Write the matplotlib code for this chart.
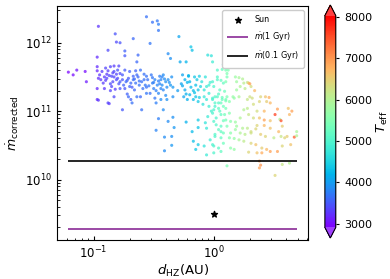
import numpy as np
import matplotlib
matplotlib.use("Agg")
import matplotlib.pyplot as plt

# each star: (log10 d_HZ [AU], log10 corrected mass loss, Teff [K]), grouped by d_HZ band
band_1 = [
    (-1.21, 11.57, 2950), (-1.17, 11.53, 3000), (-1.14, 11.60, 3050), (-1.07, 11.58, 3000),
    (-1.06, 11.43, 3100),
]
band_2 = [
    (-0.96, 12.24, 3250), (-0.97, 11.79, 3200), (-0.97, 11.65, 3200), (-0.97, 11.59, 3150),
    (-0.95, 11.53, 3250), (-0.96, 11.48, 3200), (-0.94, 11.46, 3300), (-0.97, 11.33, 3150),
    (-0.97, 11.17, 3200), (-0.96, 11.16, 3250), (-0.92, 11.41, 3300), (-0.91, 11.33, 3250),
    (-0.93, 11.58, 3300), (-0.90, 11.63, 3350), (-0.89, 11.54, 3300), (-0.89, 11.48, 3350),
    (-0.88, 11.59, 3300), (-0.88, 11.89, 3400), (-0.88, 11.12, 3350), (-0.87, 11.11, 3300),
    (-0.86, 11.65, 3350), (-0.85, 11.51, 3400), (-0.85, 11.36, 3350), (-0.84, 11.43, 3400),
    (-0.83, 11.50, 3350), (-0.83, 11.66, 3300), (-0.83, 11.58, 3400), (-0.82, 12.13, 3450),
    (-0.82, 11.32, 3300), (-0.81, 11.46, 3400), (-0.81, 11.54, 3350), (-0.81, 12.01, 3400),
    (-0.80, 11.60, 3450), (-0.80, 11.48, 3400), (-0.79, 11.66, 3350), (-0.79, 11.40, 3450),
    (-0.78, 12.00, 3450), (-0.78, 11.55, 3400), (-0.78, 11.43, 3500), (-0.78, 11.33, 3450),
    (-0.86, 11.30, 3350), (-0.83, 11.21, 3400), (-0.90, 11.45, 3300), (-0.87, 11.52, 3350),
    (-0.86, 11.40, 3400), (-0.84, 11.56, 3350), (-0.91, 11.50, 3300),
]
band_3 = [
    (-0.74, 11.88, 3550), (-0.74, 11.81, 3500), (-0.76, 11.46, 3450), (-0.76, 11.53, 3500),
    (-0.75, 11.38, 3550), (-0.74, 11.60, 3500), (-0.74, 11.33, 3450), (-0.73, 11.43, 3600),
    (-0.72, 11.25, 3550), (-0.71, 11.48, 3500), (-0.71, 11.21, 3600), (-0.70, 11.58, 3550),
    (-0.69, 11.41, 3600), (-0.69, 11.17, 3550), (-0.68, 11.12, 3650), (-0.68, 11.35, 3500),
    (-0.67, 12.06, 3600), (-0.67, 11.51, 3550), (-0.67, 11.46, 3650), (-0.66, 11.31, 3600),
    (-0.65, 11.59, 3550), (-0.65, 11.41, 3650), (-0.64, 11.21, 3650), (-0.64, 11.72, 3600),
    (-0.63, 11.82, 3600), (-0.63, 11.50, 3600), (-0.62, 11.38, 3650), (-0.61, 11.60, 3650),
    (-0.61, 11.21, 3600), (-0.60, 11.02, 3650), (-0.60, 11.43, 3650), (-0.59, 11.33, 3650),
    (-0.58, 11.46, 3650), (-0.58, 11.54, 3650), (-0.57, 11.38, 3700), (-0.56, 12.38, 3650),
    (-0.56, 11.35, 3650), (-0.56, 11.26, 3700), (-0.56, 11.51, 3650), (-0.76, 11.02, 3500),
    (-0.72, 11.45, 3550), (-0.66, 11.47, 3600), (-0.70, 11.36, 3550), (-0.62, 11.44, 3650),
    (-0.64, 11.53, 3600),
]
band_4 = [
    (-0.53, 11.99, 3700), (-0.55, 11.46, 3650), (-0.54, 11.37, 3700), (-0.53, 11.26, 3650),
    (-0.52, 11.53, 3700), (-0.51, 12.30, 3650), (-0.51, 11.41, 3750), (-0.51, 11.49, 3700),
    (-0.50, 11.33, 3750), (-0.49, 11.19, 3700), (-0.49, 11.46, 3800), (-0.48, 11.12, 3750),
    (-0.47, 12.32, 3700), (-0.47, 11.38, 3800), (-0.46, 12.27, 3750), (-0.46, 12.18, 3700),
    (-0.46, 11.44, 3750), (-0.46, 11.26, 3800), (-0.45, 11.51, 3750), (-0.44, 11.33, 3800),
    (-0.44, 11.17, 3850), (-0.44, 11.46, 3800), (-0.43, 11.38, 3850), (-0.43, 11.50, 3800),
    (-0.42, 11.02, 3850), (-0.42, 11.31, 3800), (-0.42, 11.53, 3850), (-0.40, 11.43, 3900),
    (-0.40, 11.23, 3850), (-0.39, 11.17, 3900), (-0.39, 11.35, 3850), (-0.38, 11.46, 3900),
    (-0.38, 11.84, 3850), (-0.36, 11.38, 3950), (-0.36, 11.77, 3900), (-0.35, 11.50, 3900),
    (-0.34, 11.35, 3950), (-0.34, 11.21, 3900), (-0.46, 10.89, 3750), (-0.38, 10.85, 3850),
    (-0.34, 10.91, 3900), (-0.48, 10.72, 3800), (-0.33, 10.76, 3950), (-0.41, 10.62, 3850),
    (-0.35, 10.63, 3900), (-0.41, 10.42, 3850), (-0.35, 10.50, 3950), (-0.50, 11.42, 3750),
    (-0.45, 11.40, 3800), (-0.41, 11.47, 3850), (-0.48, 11.30, 3750), (-0.37, 11.42, 3900),
]
band_5 = [
    (-0.29, 12.09, 4050), (-0.28, 11.72, 4100), (-0.26, 11.53, 4050), (-0.26, 11.37, 4100),
    (-0.25, 11.21, 4050), (-0.24, 11.46, 4150), (-0.24, 11.31, 4100), (-0.23, 11.72, 4200),
    (-0.22, 11.17, 4150), (-0.22, 11.42, 4200), (-0.21, 11.51, 4250), (-0.20, 11.24, 4200),
    (-0.19, 11.35, 4250), (-0.19, 11.94, 4350), (-0.18, 11.89, 4300), (-0.17, 11.30, 4300),
    (-0.17, 11.17, 4250), (-0.16, 11.50, 4350), (-0.15, 11.38, 4300), (-0.15, 11.21, 4350),
    (-0.14, 11.46, 4400), (-0.13, 11.31, 4350), (-0.13, 11.14, 4400), (-0.12, 11.51, 4450),
    (-0.23, 10.84, 4150), (-0.18, 10.70, 4250), (-0.13, 10.87, 4400), (-0.13, 10.76, 4350),
    (-0.17, 10.56, 4300), (-0.13, 10.51, 4400), (-0.15, 10.44, 4350), (-0.27, 11.40, 4050),
    (-0.20, 11.43, 4200), (-0.16, 11.27, 4300), (-0.23, 11.25, 4150), (-0.11, 11.36, 4500),
    (-0.12, 11.20, 4450), (-0.30, 11.30, 4000), (-0.21, 11.52, 4200),
]
band_6 = [
    (-0.10, 11.43, 4650), (-0.08, 11.31, 4700), (-0.08, 11.21, 4750), (-0.07, 11.50, 4700),
    (-0.06, 11.36, 4800), (-0.06, 11.17, 4750), (-0.05, 11.82, 4650), (-0.04, 11.07, 4850),
    (-0.04, 11.26, 4800), (-0.03, 11.42, 4900), (-0.02, 11.81, 4700), (-0.01, 11.17, 4900),
    (-0.01, 10.97, 4950), (-0.01, 11.72, 4850), (0.00, 11.36, 5000), (0.01, 11.07, 4950),
    (0.01, 11.21, 5050), (0.02, 10.90, 5000), (0.03, 11.46, 5100), (0.03, 11.50, 5050),
    (0.04, 11.12, 5100), (0.05, 11.31, 5150), (0.06, 10.78, 5150), (0.06, 10.95, 5200),
    (0.07, 11.17, 5250), (0.08, 11.41, 5200), (0.08, 10.68, 5300), (0.08, 11.07, 5300),
    (0.09, 11.29, 5300), (0.10, 10.87, 5400), (0.11, 11.50, 5400), (0.11, 11.21, 5450),
    (-0.07, 10.83, 4700), (-0.06, 10.75, 4750), (-0.08, 10.49, 4700), (-0.06, 10.36, 4800),
    (-0.03, 10.58, 4850), (0.01, 10.63, 5000), (0.04, 10.46, 5100), (0.00, 10.39, 5000),
    (0.08, 10.53, 5300), (-0.09, 11.10, 4700), (-0.02, 11.00, 4900), (0.05, 11.00, 5150),
    (0.02, 10.80, 5050), (0.09, 10.95, 5350), (-0.05, 10.92, 4800), (0.06, 10.70, 5200),
    (0.10, 11.15, 5400), (-0.04, 11.38, 4850), (0.04, 11.25, 5100), (0.08, 11.68, 4100),
    (0.03, 11.60, 5050), (0.07, 11.61, 5250), (0.10, 11.60, 5400), (0.11, 11.55, 5450),
    (-0.01, 11.43, 4950), (0.06, 11.45, 5200), (0.10, 11.43, 5450), (0.12, 11.60, 5500),
    (0.16, 11.66, 5700),
]
band_7 = [
    (0.18, 11.50, 5750), (0.21, 11.49, 5900), (0.19, 11.43, 5800), (0.24, 11.47, 6000),
    (0.25, 11.41, 6050), (0.28, 11.42, 6200), (0.29, 11.41, 6600), (0.22, 11.36, 5950),
    (0.26, 11.33, 6100), (0.31, 11.36, 6300), (0.19, 11.31, 5800), (0.16, 11.21, 5700),
    (0.21, 11.21, 5900), (0.30, 11.21, 6250), (-0.01, 11.19, 4950), (0.03, 11.21, 5100),
    (0.07, 11.20, 5250), (0.10, 11.17, 5400), (0.01, 11.12, 5050), (0.06, 11.12, 5250),
    (0.13, 11.14, 5550), (0.17, 11.19, 5700), (0.28, 11.17, 6200), (0.32, 11.19, 6300),
    (0.39, 11.21, 6400), (0.43, 11.21, 6600), (0.46, 11.20, 6800), (0.44, 11.14, 6500),
    (0.47, 11.12, 6700), (0.38, 11.14, 6400), (0.33, 11.10, 6300), (0.00, 11.02, 5000),
    (0.04, 11.04, 5150), (0.10, 11.04, 5400), (0.13, 10.97, 5550), (0.25, 11.02, 6000),
    (0.28, 11.04, 6100), (0.36, 11.00, 6300), (0.42, 11.00, 6700), (0.53, 11.03, 6900),
    (0.62, 11.04, 6600), (0.65, 11.00, 6900), (0.63, 10.95, 6700), (0.51, 10.95, 7600),
    (0.55, 10.88, 6000), (0.56, 10.86, 7500), (0.47, 10.86, 6600), (0.42, 10.87, 6900),
    (0.38, 10.90, 6600), (0.33, 10.90, 6300), (0.29, 10.95, 6200), (0.22, 10.90, 5950),
    (0.18, 10.84, 5750), (0.14, 10.85, 5600), (0.08, 10.86, 5300), (0.00, 10.85, 5000),
    (0.11, 10.78, 5450), (0.19, 10.78, 5800), (0.24, 10.75, 6000), (0.28, 10.75, 6100),
    (0.31, 10.70, 6300), (0.36, 10.79, 6400), (0.42, 10.79, 6700), (0.47, 10.75, 6600),
    (0.35, 10.74, 6400), (0.04, 10.73, 5150), (0.14, 10.68, 5600), (0.18, 10.73, 5750),
    (0.22, 10.68, 5950), (0.26, 10.66, 6050), (0.31, 10.68, 6250), (0.39, 10.66, 6500),
    (0.43, 10.63, 6400), (0.50, 10.61, 6100), (0.56, 10.63, 6200), (0.59, 10.61, 6400),
    (0.67, 10.62, 7400), (0.69, 10.70, 5900), (0.69, 10.64, 6000), (0.01, 10.66, 5050),
    (0.06, 10.61, 5200), (0.13, 10.61, 5550), (0.17, 10.60, 5700), (0.21, 10.58, 5900),
    (0.25, 10.56, 6100), (0.31, 10.53, 6400), (0.35, 10.51, 6600), (0.40, 10.46, 6500),
    (0.44, 10.44, 6700), (0.53, 10.41, 6900), (0.47, 10.41, 6900), (0.40, 10.39, 6800),
    (0.29, 10.40, 6400), (0.36, 10.39, 6600), (0.14, 10.46, 5600), (0.17, 10.44, 5700),
    (0.06, 10.41, 5200), (0.00, 10.49, 5000), (0.57, 10.49, 6400), (0.64, 10.51, 6600),
    (0.61, 10.63, 6500), (0.38, 10.27, 6900), (0.39, 10.21, 7000), (0.38, 10.17, 6900),
    (0.57, 10.22, 6200), (0.63, 10.24, 6000), (0.51, 10.06, 6400), (0.11, 10.20, 5450),
    (-0.01, 10.51, 4950), (0.30, 11.40, 6900), (0.34, 11.30, 6700), (0.57, 10.78, 6500),
    (0.54, 10.70, 6700),
]
bands = [band_1, band_2, band_3, band_4, band_5, band_6, band_7]

sun_d = 1.0
sun_mdot = 3.1e9
mdot_1gyr = 1.87e9
mdot_01gyr = 1.87e10

stars = np.array([row for band in bands for row in band])
dhz = 10 ** stars[:, 0]
mdot = 10 ** stars[:, 1]
teff = stars[:, 2]

fig = plt.figure(figsize=(3.9, 2.79), dpi=100)
ax = fig.add_axes([0.146, 0.14, 0.644, 0.838])

sc = ax.scatter(dhz, mdot, c=teff, cmap="rainbow", vmin=2910, vmax=8030,
                s=5, alpha=0.75, linewidths=0)
ax.scatter([sun_d], [sun_mdot], marker="*", color="k", s=20, label="Sun", zorder=3)
ax.hlines(mdot_1gyr, dhz.min(), dhz.max(), color="#8a2a96", lw=1.2, label=r"$\dot{m}$(1 Gyr)")
ax.hlines(mdot_01gyr, dhz.min(), dhz.max(), color="k", lw=1.2, label=r"$\dot{m}$(0.1 Gyr)")

ax.set_xscale("log")
ax.set_yscale("log")
ax.set_xlabel(r"$d_{\rm HZ}$(AU)", fontsize=9.5, labelpad=1)
ax.set_ylabel(r"$\dot{m}_{\rm corrected}$", fontsize=9, labelpad=3)
ax.tick_params(which="both", direction="in", labelsize=8.5)
ax.tick_params(which="major", length=3)
ax.tick_params(which="minor", length=1.8)
ax.legend(loc="upper right", fontsize=5.8, framealpha=1, handlelength=2.6,
          borderpad=0.6, labelspacing=0.7)

cax = fig.add_axes([0.833, 0.147, 0.028, 0.835])
cb = fig.colorbar(sc, cax=cax, extend="both")
cb.solids.set_alpha(1)
cb.set_ticks([3000, 4000, 5000, 6000, 7000, 8000])
cb.ax.tick_params(labelsize=8, length=2.5)
cb.set_label(r"$T_{\rm eff}$", fontsize=9.5, labelpad=2)

fig.savefig("out.png", dpi=100)
